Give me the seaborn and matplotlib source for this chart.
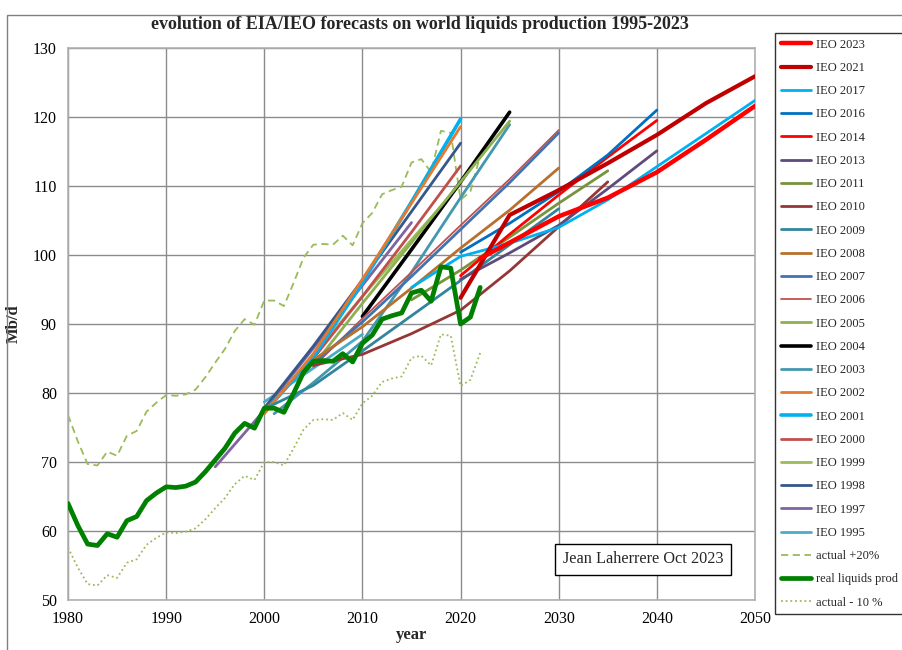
import matplotlib
matplotlib.use("Agg")
import matplotlib.pyplot as plt
from matplotlib.patches import Rectangle
import seaborn as sns
import pandas as pd

# historical production (Mb/d), 1980-2022
hist_years = list(range(1980, 2023))
real_prod = [64.0, 60.8, 58.1, 57.9, 59.6, 59.1, 61.5, 62.1, 64.4, 65.5,
             66.4, 66.3, 66.5, 67.1, 68.6, 70.3, 72.0, 74.2, 75.6, 74.9,
             77.8, 77.8, 77.2, 80.0, 83.0, 84.6, 84.7, 84.6, 85.7, 84.5,
             87.2, 88.4, 90.7, 91.2, 91.6, 94.5, 94.9, 93.3, 98.3, 98.1,
             90.0, 91.0, 95.3]
actual_plus20 = [76.8, 73.0, 69.7, 69.5, 71.5, 70.9, 73.8, 74.5, 77.3, 78.6,
                 79.7, 79.6, 79.8, 80.5, 82.3, 84.4, 86.4, 89.0, 90.7, 89.9,
                 93.4, 93.4, 92.6, 96.0, 99.6, 101.5, 101.6, 101.5, 102.8, 101.4,
                 104.6, 106.1, 108.8, 109.4, 109.9, 113.4, 113.9, 112.0, 118.0, 117.7,
                 108.0, 109.2, 114.4]
actual_minus10 = [57.6, 54.7, 52.3, 52.1, 53.6, 53.2, 55.4, 55.9, 58.0, 59.0,
                  59.8, 59.7, 59.9, 60.4, 61.7, 63.3, 64.8, 66.8, 68.0, 67.4,
                  70.0, 70.0, 69.5, 72.0, 74.7, 76.1, 76.2, 76.1, 77.1, 76.1,
                  78.5, 79.6, 81.6, 82.1, 82.4, 85.1, 85.4, 84.0, 88.5, 88.3,
                  81.0, 81.9, 85.8]

# IEO forecasts
ieo2023_x = [2022, 2025, 2030, 2035, 2040, 2045, 2050]
ieo2023_y = [99.5, 101.8, 105.6, 108.3, 112.0, 116.7, 121.6]
ieo2021_x = [2020, 2025, 2030, 2035, 2040, 2045, 2050]
ieo2021_y = [93.8, 105.8, 109.4, 113.3, 117.4, 122.0, 125.9]
ieo2017_x = [2015, 2020, 2025, 2030, 2035, 2040, 2045, 2050]
ieo2017_y = [95.3, 99.8, 101.7, 104.0, 108.0, 112.8, 117.6, 122.4]
ieo2016_x = [2020, 2025, 2030, 2035, 2040]
ieo2016_y = [100.4, 104.6, 109.2, 114.5, 121.0]
ieo2014_x = [2020, 2025, 2030, 2035, 2040]
ieo2014_y = [97.0, 103.0, 108.7, 114.2, 119.5]
ieo2013_x = [2020, 2025, 2030, 2035, 2040]
ieo2013_y = [96.5, 100.3, 104.3, 109.6, 115.1]
ieo2011_x = [2015, 2020, 2025, 2030, 2035]
ieo2011_y = [93.5, 97.8, 102.6, 107.5, 112.2]
ieo2010_x = [2005, 2010, 2015, 2020, 2025, 2030, 2035]
ieo2010_y = [84.0, 85.6, 88.6, 92.0, 97.7, 104.1, 110.6]
ieo2009_x = [2000, 2005, 2010, 2015, 2020, 2025, 2030]
ieo2009_y = [77.7, 81.1, 86.1, 91.2, 96.3, 101.5, 106.7]
ieo2008_x = [2005, 2010, 2015, 2020, 2025, 2030]
ieo2008_y = [84.8, 89.6, 95.2, 101.0, 106.5, 112.6]
ieo2007_x = [2005, 2010, 2015, 2020, 2025, 2030]
ieo2007_y = [84.3, 90.3, 96.9, 103.7, 110.5, 117.7]
ieo2006_x = [2005, 2010, 2015, 2020, 2025, 2030]
ieo2006_y = [83.8, 90.8, 97.5, 104.3, 111.0, 118.1]
ieo2005_x = [2005, 2010, 2015, 2020, 2025]
ieo2005_y = [84.0, 93.0, 101.8, 110.6, 119.4]
ieo2004_x = [2010, 2015, 2020, 2025]
ieo2004_y = [91.1, 100.8, 110.6, 120.7]
ieo2003_x = [2001, 2005, 2010, 2015, 2020, 2025]
ieo2003_y = [77.0, 81.5, 87.5, 97.5, 108.3, 118.9]
ieo2002_x = [2000, 2005, 2010, 2015, 2020]
ieo2002_y = [77.0, 85.7, 96.5, 107.5, 118.6]
ieo2001_x = [2000, 2005, 2010, 2015, 2020]
ieo2001_y = [77.2, 85.2, 96.0, 107.7, 119.7]
ieo2000_x = [2000, 2005, 2010, 2015, 2020]
ieo2000_y = [77.5, 85.0, 94.0, 103.3, 112.9]
ieo1999_x = [2000, 2005, 2010, 2015, 2020]
ieo1999_y = [77.0, 85.5, 94.0, 102.2, 110.3]
ieo1998_x = [2000, 2005, 2010, 2015, 2020]
ieo1998_y = [77.8, 86.8, 96.4, 106.3, 116.2]
ieo1997_x = [1995, 2000, 2005, 2010, 2015]
ieo1997_y = [69.3, 77.5, 86.5, 95.6, 104.7]
ieo1995_x = [2000, 2005, 2010]
ieo1995_y = [78.7, 83.6, 88.5]

# legend order (top to bottom) with styles
forecasts = [
    ("IEO 2023", ieo2023_x, ieo2023_y, "#FF0000", 3.2),
    ("IEO 2021", ieo2021_x, ieo2021_y, "#C00000", 3.0),
    ("IEO 2017", ieo2017_x, ieo2017_y, "#00B0F0", 2.0),
    ("IEO 2016", ieo2016_x, ieo2016_y, "#0070C0", 2.0),
    ("IEO 2014", ieo2014_x, ieo2014_y, "#FF0000", 2.0),
    ("IEO 2013", ieo2013_x, ieo2013_y, "#604A7B", 2.0),
    ("IEO 2011", ieo2011_x, ieo2011_y, "#77933C", 2.0),
    ("IEO 2010", ieo2010_x, ieo2010_y, "#953735", 2.0),
    ("IEO 2009", ieo2009_x, ieo2009_y, "#31859C", 2.0),
    ("IEO 2008", ieo2008_x, ieo2008_y, "#B7702E", 2.0),
    ("IEO 2007", ieo2007_x, ieo2007_y, "#4372B0", 2.0),
    ("IEO 2006", ieo2006_x, ieo2006_y, "#C0504D", 1.3),
    ("IEO 2005", ieo2005_x, ieo2005_y, "#8DB050", 2.0),
    ("IEO 2004", ieo2004_x, ieo2004_y, "#000000", 2.6),
    ("IEO 2003", ieo2003_x, ieo2003_y, "#4397AE", 2.0),
    ("IEO 2002", ieo2002_x, ieo2002_y, "#E47A2E", 2.0),
    ("IEO 2001", ieo2001_x, ieo2001_y, "#00B0F0", 2.6),
    ("IEO 2000", ieo2000_x, ieo2000_y, "#C0504D", 2.0),
    ("IEO 1999", ieo1999_x, ieo1999_y, "#9BBB59", 2.0),
    ("IEO 1998", ieo1998_x, ieo1998_y, "#35578A", 2.0),
    ("IEO 1997", ieo1997_x, ieo1997_y, "#8064A2", 2.0),
    ("IEO 1995", ieo1995_x, ieo1995_y, "#4BACC6", 2.0),
]

sns.set_theme(style="whitegrid")
plt.rcParams["font.family"] = ["Liberation Serif", "DejaVu Serif"]

fig = plt.figure(figsize=(9.03, 6.5), dpi=100)
ax = fig.add_axes([68 / 903, 1 - 600 / 650, (755 - 68) / 903, (600 - 48) / 650])

# oldest drawn first so recent forecasts sit on top
for i, (lab, xs, ys, col, lw) in enumerate(reversed(forecasts)):
    df = pd.DataFrame({"year": xs, "value": ys})
    sns.lineplot(data=df, x="year", y="value", ax=ax, color=col, linewidth=lw,
                 label=lab, zorder=3 + i * 0.01)

df_hist = pd.DataFrame({"year": hist_years, "real": real_prod,
                        "plus20": actual_plus20, "minus10": actual_minus10})
sns.lineplot(data=df_hist, x="year", y="plus20", ax=ax, color="#9BBB59",
             linewidth=1.3, linestyle=(0, (4, 2.5)), label="actual +20%", zorder=2)
sns.lineplot(data=df_hist, x="year", y="minus10", ax=ax, color="#9BBB59",
             linewidth=1.3, linestyle=(0, (1, 1.6)), label="actual - 10 %", zorder=2)
sns.lineplot(data=df_hist, x="year", y="real", ax=ax, color="#008000",
             linewidth=3.4, label="real liquids prod", zorder=3.5)

ax.set_xlim(1980, 2050)
ax.set_ylim(50, 130)
ax.set_xticks(range(1980, 2051, 10))
ax.set_yticks(range(50, 131, 10))
ax.grid(True, color="#8C8C8C", linewidth=1.0)
ax.set_axisbelow(True)
for s in ax.spines.values():
    s.set_color("#B0B0B0")
    s.set_linewidth(1.2)
ax.tick_params(axis="both", labelsize=11.5, colors="#000000", length=5,
               width=1.0, direction="out", pad=3)
ax.tick_params(axis="both", color="#8C8C8C")
ax.set_xlabel("year", fontsize=12, fontweight="bold", labelpad=0)
ax.set_ylabel("Mb/d", fontsize=12, fontweight="bold", labelpad=0)
ax.yaxis.set_label_coords(-46 / 687, 0.5)

ax.set_title("evolution of EIA/IEO forecasts on world liquids production 1995-2023",
             fontsize=13, fontweight="bold", pad=14, x=0.512)

ax.text(2038.6, 55.9, "Jean Laherrere Oct 2023", fontsize=11.7, ha="center",
        va="center", zorder=10,
        bbox=dict(boxstyle="square,pad=0.45", facecolor="white", edgecolor="black",
                  linewidth=1.0))

# legend in the requested order, box running past the right edge
hmap = dict(zip(*ax.get_legend_handles_labels()[::-1]))
order = [f[0] for f in forecasts] + ["actual +20%", "real liquids prod", "actual - 10 %"]
leg = ax.legend([hmap[o] for o in order], order, loc="upper left",
                bbox_to_anchor=(775 / 903, 1 - 612 / 650, 140 / 903, (612 - 33) / 650),
                bbox_transform=fig.transFigure, mode="expand",
                frameon=True, fancybox=False, edgecolor="black", fontsize=9,
                handlelength=2.4, handletextpad=0.4, labelspacing=0.9,
                borderpad=0.45, borderaxespad=0)
leg.get_frame().set_linewidth(1.0)

# outer chart border
fig.patches.append(Rectangle((7 / 903, -0.1), 1.0, 1 - 15 / 650 + 0.1,
                             transform=fig.transFigure, fill=False,
                             edgecolor="#808080", linewidth=1.0))

fig.savefig("out.png", dpi=100)
